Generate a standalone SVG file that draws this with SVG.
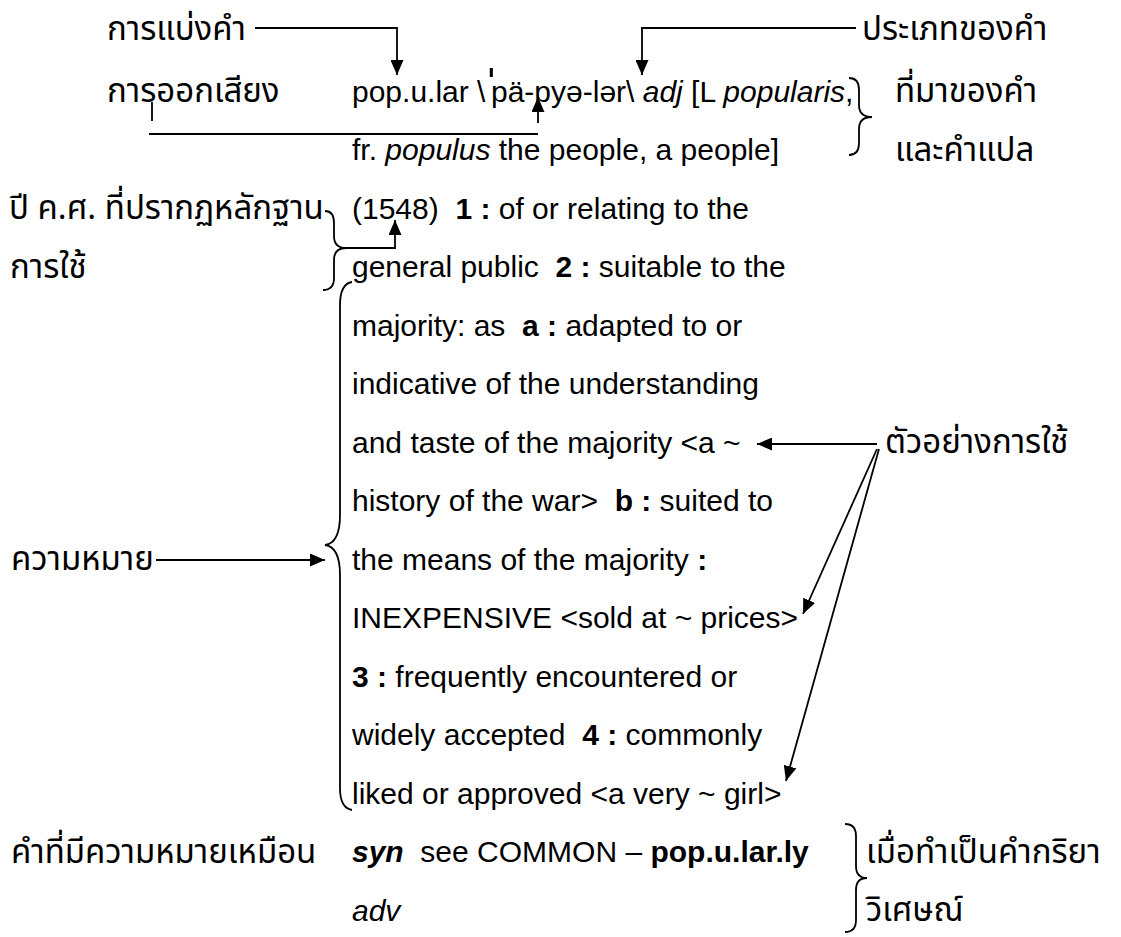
<svg xmlns="http://www.w3.org/2000/svg" width="1121" height="937" viewBox="0 0 1121 937">
<style>
.en{font-family:"Liberation Sans",Arial,sans-serif;font-size:30px;fill:#000}
.th{font-family:"Noto Sans Thai","Noto Sans Thai Looped","Loma","Garuda","Norasi","Tlwg Typo","DejaVu Sans",sans-serif;font-size:33px;fill:#000}
.b{font-weight:bold}
.i{font-style:italic}
.ln{stroke:#000;stroke-width:1.8;fill:none}
</style>
<defs>
<marker id="ah" markerWidth="15" markerHeight="13" refX="15" refY="6.5" orient="auto" markerUnits="userSpaceOnUse"><path d="M0,0 L15,6.5 L0,13 z" fill="#000"/></marker>
</defs>
<rect width="1121" height="937" fill="#fff"/>

<g id="labels-left">
<text id="lbl-division" class="th" x="107" y="40">การแบ่งคำ</text>
<text id="lbl-pron" class="th" x="107" y="102">การออกเสียง</text>
<text id="lbl-year1" class="th" x="9" y="219">ปี ค.ศ. ที่ปรากฏหลักฐาน</text>
<text id="lbl-year2" class="th" x="10" y="278">การใช้</text>
<text id="lbl-meaning" class="th" x="11" y="570">ความหมาย</text>
<text id="lbl-syn" class="th" x="11" y="863">คำที่มีความหมายเหมือน</text>
</g>

<g id="labels-right">
<text id="lbl-pos" class="th" x="862" y="40">ประเภทของคำ</text>
<text id="lbl-origin1" class="th" x="895" y="102">ที่มาของคำ</text>
<text id="lbl-origin2" class="th" x="895" y="161">และคำแปล</text>
<text id="lbl-example" class="th" x="885" y="453">ตัวอย่างการใช้</text>
<text id="lbl-adv1" class="th" x="866" y="863">เมื่อทำเป็นคำกริยา</text>
<text id="lbl-adv2" class="th" x="866" y="921">วิเศษณ์</text>
</g>

<g id="entry">
<text class="en" x="352" y="101.5" xml:space="preserve">pop.u.lar \<tspan x="482" dy="6" style="font-size:56px">ˈ</tspan><tspan x="491" dy="-6">pä-pyə-lər\ </tspan><tspan class="i">adj</tspan> [L <tspan class="i">popularis</tspan>,</text>
<text class="en" x="352" y="160" xml:space="preserve">fr. <tspan class="i">populus</tspan> the people, a people]</text>
<text class="en" x="352" y="218.5" xml:space="preserve">(1548)  <tspan class="b">1 :</tspan> of or relating to the</text>
<text class="en" x="352" y="277" xml:space="preserve">general public  <tspan class="b">2 :</tspan> suitable to the</text>
<text class="en" x="352" y="335.5" xml:space="preserve">majority: as  <tspan class="b">a :</tspan> adapted to or</text>
<text class="en" x="352" y="394" xml:space="preserve">indicative of the understanding</text>
<text class="en" x="352" y="452.5" xml:space="preserve">and taste of the majority &lt;a ~</text>
<text class="en" x="352" y="511" xml:space="preserve">history of the war&gt;  <tspan class="b">b :</tspan> suited to</text>
<text class="en" x="352" y="569.5" xml:space="preserve">the means of the majority <tspan class="b">:</tspan></text>
<text class="en" x="352" y="628" xml:space="preserve">INEXPENSIVE &lt;sold at ~ prices&gt;</text>
<text class="en" x="352" y="686.5" xml:space="preserve"><tspan class="b">3 :</tspan> frequently encountered or</text>
<text class="en" x="352" y="745" xml:space="preserve">widely accepted  <tspan class="b">4 :</tspan> commonly</text>
<text class="en" x="352" y="803.5" xml:space="preserve">liked or approved &lt;a very ~ girl&gt;</text>
<text class="en" x="352" y="862" xml:space="preserve"><tspan class="b i">syn</tspan>  see COMMON – <tspan class="b">pop.u.lar.ly</tspan></text>
<text class="en i" x="352" y="920.5">adv</text>
</g>

<g id="connectors">
<path class="ln" d="M255,28 H397 V75" marker-end="url(#ah)"/>
<path class="ln" d="M856,28 H642 V75" marker-end="url(#ah)"/>
<path class="ln" d="M152,102 V121"/>
<path class="ln" d="M149,134 H538"/>
<path class="ln" d="M538,123 V97" marker-end="url(#ah)"/>
<path class="ln" d="M849,78 Q859,78 859,90 L859,105 Q859,117 872,117 Q859,117 859,129 L859,143 Q859,155 849,155"/>
<path class="ln" d="M325,211 Q334,211 334,223 L334,236 Q334,248 346,248 Q334,248 334,260 L334,278 Q334,290 323,290"/>
<path class="ln" d="M346,248 H395 V220" marker-end="url(#ah)"/>
<path class="ln" d="M352,282 Q340,284 340,305 L340,515 Q340,543 325,545 Q340,547 340,575 L340,788 Q340,808 352,810"/>
<path class="ln" d="M156,560 H325" marker-end="url(#ah)"/>
<path class="ln" d="M877,444 H757" marker-end="url(#ah)"/>
<path class="ln" d="M877,449 L803,614" marker-end="url(#ah)"/>
<path class="ln" d="M879,449 L786,781" marker-end="url(#ah)"/>
<path class="ln" d="M845,824 Q856,824 856,836 L856,866 Q856,878 867,878 Q856,878 856,890 L856,920 Q856,932 845,932"/>
</g>
</svg>
